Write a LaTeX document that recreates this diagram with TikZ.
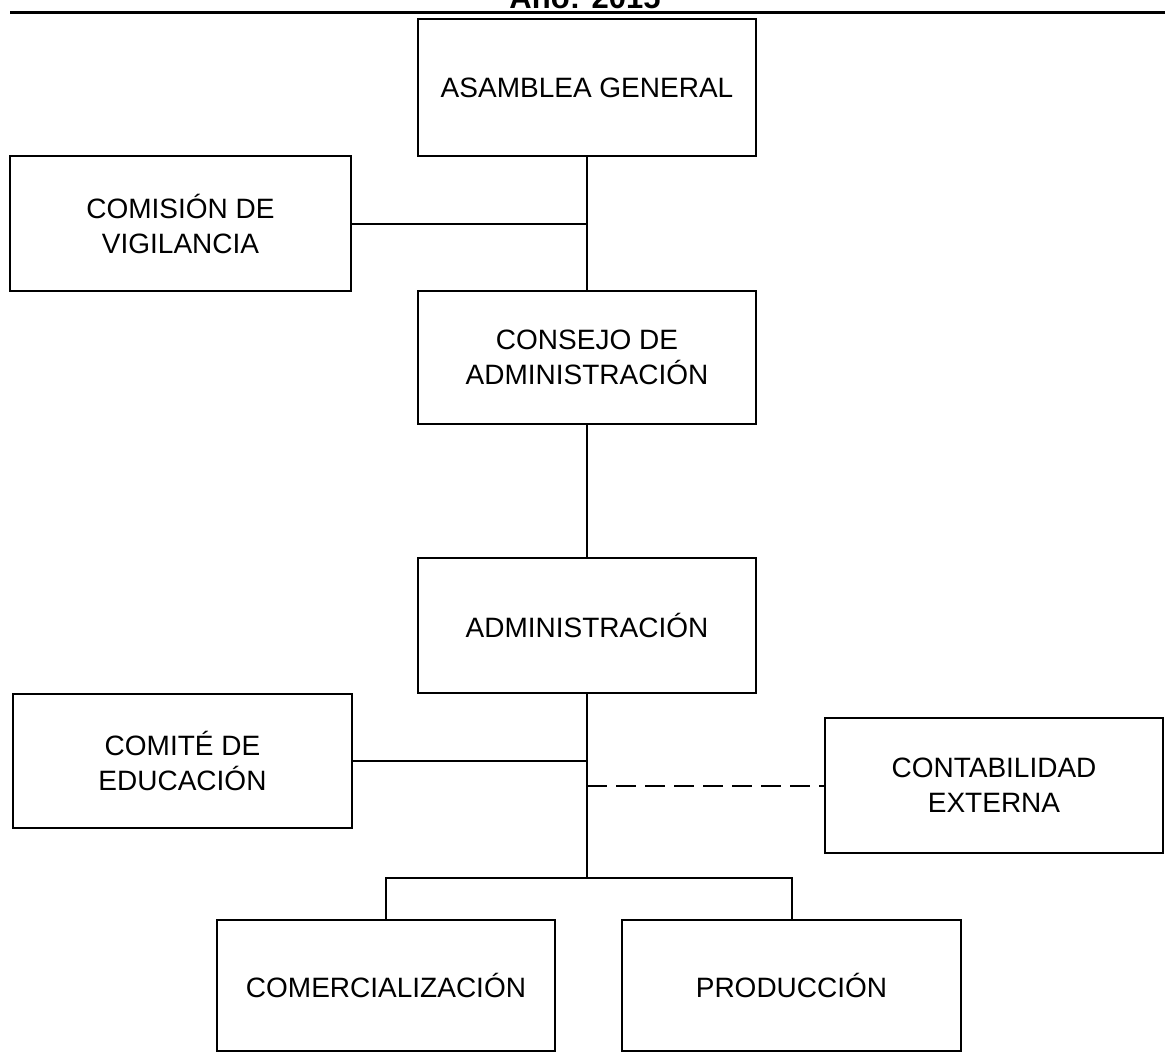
\documentclass[tikz,border=0pt]{standalone}
\usepackage{fontspec}
\setmainfont{Liberation Sans}
\usepackage{tikz}

\begin{document}
\begin{tikzpicture}[y=1pt, x=1pt, yscale=-1, inner sep=0pt, outer sep=0pt,
  orgbox/.style={draw=black, line width=2.3pt, align=center,
    minimum width=338pt, minimum height=135pt,
    font=\fontsize{28}{35}\selectfont},
  orgline/.style={draw=black, line width=2pt}]
  \clip (0,0) rectangle (1165,1054);
  \fill[white] (0,0) rectangle (1165,1054);
  % title, cut off at the top
  \node[anchor=base, font=\bfseries\fontsize{31}{31}\selectfont] (titulo) at (585,9) {Año: 2015};
  \path[draw=black, line width=3pt] (10,13) -- (1165,13);
  % boxes
  \node[orgbox, minimum height=137pt] (asamblea) at (587,87.5) {ASAMBLEA GENERAL};
  \node[orgbox, minimum width=341pt] (comision) at (180.5,223.5) {COMISIÓN DE\\VIGILANCIA};
  \node[orgbox, minimum height=133pt] (consejo) at (587,357.5) {CONSEJO DE\\ADMINISTRACIÓN};
  \node[orgbox] (admin) at (587,625.5) {ADMINISTRACIÓN};
  \node[orgbox, minimum width=339pt, minimum height=134pt] (comite) at (182.5,761) {COMITÉ DE\\EDUCACIÓN};
  \node[orgbox] (contab) at (994,785.5) {CONTABILIDAD\\EXTERNA};
  \node[orgbox, minimum height=131pt] (comer) at (386,985.5) {COMERCIALIZACIÓN};
  \node[orgbox, minimum width=339pt, minimum height=131pt] (prod) at (791.5,985.5) {PRODUCCIÓN};
  % connectors
  \coordinate (rama) at (587,878);
  \path[orgline] (asamblea.south) -- (consejo.north);
  \path[orgline] (comision.east) -- (comision.east -| asamblea.south);
  \path[orgline] (consejo.south) -- (admin.north);
  \path[orgline] (admin.south) -- (rama);
  \path[orgline] (comite.east) -- (comite.east -| admin.south);
  \path[orgline, dash pattern=on 20pt off 9pt] (contab.west -| admin.south) -- (contab.west);
  \path[orgline] (comer.north) |- (rama) -| (prod.north);
\end{tikzpicture}
\end{document}
